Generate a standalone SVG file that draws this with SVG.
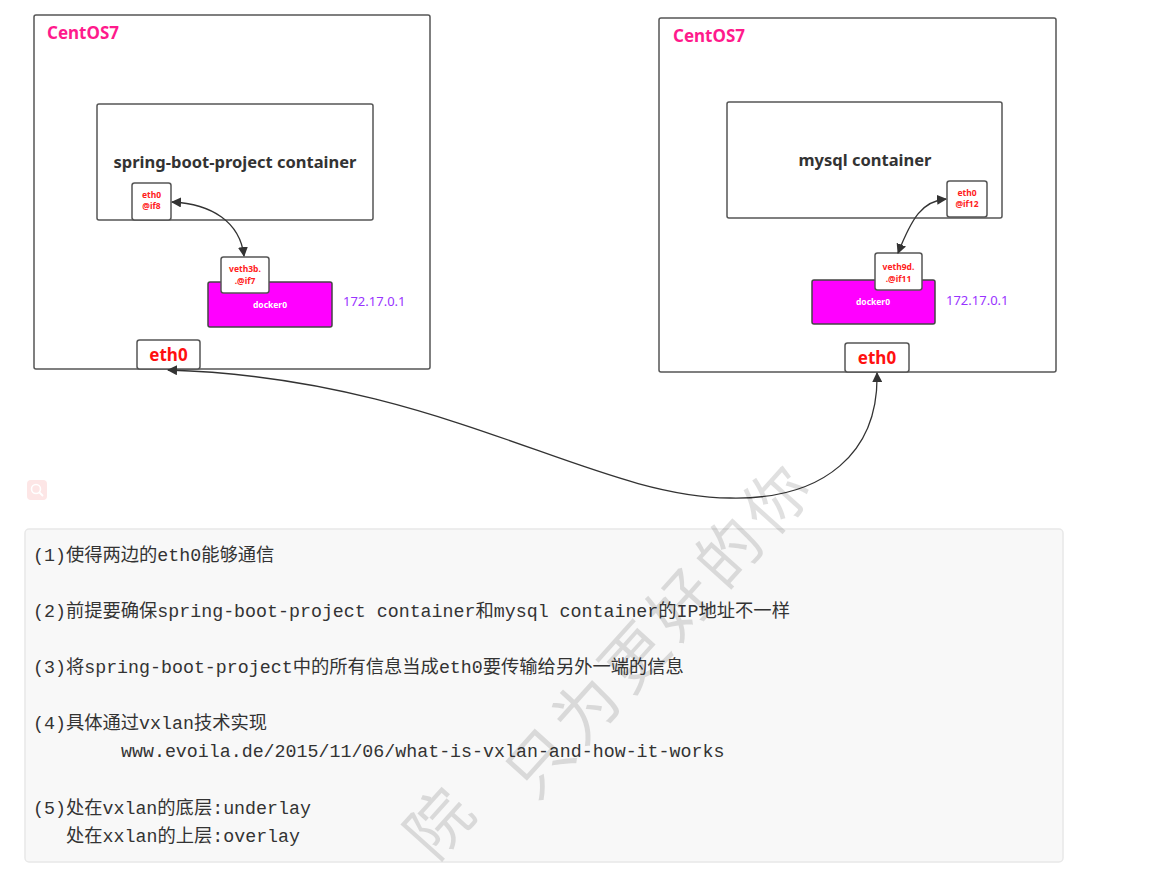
<svg xmlns="http://www.w3.org/2000/svg" width="1156" height="871" viewBox="0 0 1156 871">
<defs>
<style>
.box{fill:#fff;stroke:#555;stroke-width:1.5}
.os{font-family:"Noto Sans","Open Sans",sans-serif;font-weight:bold;font-size:17px;fill:#ff1a8c}
.ct{font-family:"Noto Sans","Open Sans",sans-serif;font-weight:bold;font-size:16.5px;fill:#333;text-anchor:middle}
.if{font-family:"Noto Sans","Open Sans",sans-serif;font-weight:bold;font-size:8.5px;fill:#ff2020;text-anchor:middle}
.dk{fill:#ff00ff;stroke:#444;stroke-width:1.5}
.dkt{font-family:"Noto Sans","Open Sans",sans-serif;font-weight:bold;font-size:8.5px;fill:#fff;text-anchor:middle}
.ip{font-family:"Noto Sans","Open Sans",sans-serif;font-size:13px;fill:#9933ff}
.eth{font-family:"Noto Sans","Open Sans",sans-serif;font-weight:bold;font-size:17px;fill:#ff1010;text-anchor:middle}
.con{fill:none;stroke:#333;stroke-width:1.3}
.txt{font-family:"Liberation Mono","Noto Sans CJK SC",monospace;font-size:18.3px;fill:#333}
.wm{font-family:"Noto Sans CJK SC",sans-serif;font-weight:400;font-size:64px;fill:#000;fill-opacity:0.12;text-anchor:middle}
</style>
<marker id="ah" viewBox="0 0 10 10" refX="9" refY="5" markerWidth="10" markerHeight="10" markerUnits="userSpaceOnUse" orient="auto-start-reverse">
<path d="M0,0 L10,5 L0,10 z" fill="#333"/>
</marker>
</defs>
<rect width="1156" height="871" fill="#fff"/>

<g id="host-left">
<rect class="box" x="34" y="15" width="396" height="354" rx="2"/>
<text class="os" x="47" y="39">CentOS7</text>
</g>
<g id="container-left">
<rect class="box" x="97" y="104" width="276" height="116" rx="2"/>
<text class="ct" x="235" y="168">spring-boot-project container</text>
</g>
<g id="eth0-if8">
<rect class="box" x="132" y="183" width="39" height="37" rx="2.5"/>
<text class="if" x="151.5" y="198">eth0</text>
<text class="if" x="151.5" y="209">@if8</text>
</g>
<g id="docker0-left">
<rect class="dk" x="208" y="282" width="124" height="45" rx="2"/>
<text class="dkt" x="270" y="308">docker0</text>
</g>
<g id="veth3b">
<rect class="box" x="221" y="257" width="48" height="36" rx="2.5"/>
<text class="if" x="245" y="272">veth3b.</text>
<text class="if" x="245" y="284">.@if7</text>
</g>
<g id="ip-left"><text class="ip" x="343" y="306">172.17.0.1</text></g>
<g id="eth0-left">
<rect class="box" x="137" y="340" width="63" height="29" rx="2.5"/>
<text class="eth" x="168.5" y="361">eth0</text>
</g>

<g id="host-right">
<rect class="box" x="659" y="18" width="397" height="354" rx="2"/>
<text class="os" x="673" y="42">CentOS7</text>
</g>
<g id="container-right">
<rect class="box" x="727" y="102" width="275" height="116" rx="2"/>
<text class="ct" x="865" y="166">mysql container</text>
</g>
<g id="eth0-if12">
<rect class="box" x="947" y="181" width="40" height="36" rx="2.5"/>
<text class="if" x="967" y="196">eth0</text>
<text class="if" x="967" y="207">@if12</text>
</g>
<g id="docker0-right">
<rect class="dk" x="812" y="280" width="123" height="44" rx="2"/>
<text class="dkt" x="873" y="305">docker0</text>
</g>
<g id="veth9d">
<rect class="box" x="875" y="253" width="47" height="37" rx="2.5"/>
<text class="if" x="898.5" y="270">veth9d.</text>
<text class="if" x="898.5" y="282">.@if11</text>
</g>
<g id="ip-right"><text class="ip" x="946" y="305">172.17.0.1</text></g>
<g id="eth0-right">
<rect class="box" x="845" y="343" width="64" height="29" rx="2.5"/>
<text class="eth" x="877" y="364">eth0</text>
</g>

<g id="connectors">
<path class="con" d="M172,202 C212,204 240,222 244,256" marker-start="url(#ah)" marker-end="url(#ah)"/>
<path class="con" d="M946,199 C922,201 912,218 898,253" marker-start="url(#ah)" marker-end="url(#ah)"/>
<path class="con" d="M168,370 C440,378 590,497 730,498 C825,500 879,452 877,373" marker-start="url(#ah)" marker-end="url(#ah)"/>
</g>

<g id="search-icon">
<rect x="27" y="480" width="20" height="20" rx="4" fill="#fde6e6"/>
<circle cx="36" cy="489" r="4.5" fill="none" stroke="#fff" stroke-width="1.6"/>
<line x1="39.5" y1="492.5" x2="42.5" y2="495.5" stroke="#fff" stroke-width="1.8" stroke-linecap="round"/>
</g>

<g id="notes">
<rect x="25" y="529" width="1038" height="333" rx="4" fill="#f8f8f8" stroke="#e8e8e8" stroke-width="1.5"/>
<text class="txt" x="33" y="561">(1)使得两边的eth0能够通信</text>
<text class="txt" x="33" y="617">(2)前提要确保spring-boot-project container和mysql container的IP地址不一样</text>
<text class="txt" x="33" y="673">(3)将spring-boot-project中的所有信息当成eth0要传输给另外一端的信息</text>
<text class="txt" x="33" y="729">(4)具体通过vxlan技术实现</text>
<text class="txt" x="121" y="757">www.evoila.de/2015/11/06/what-is-vxlan-and-how-it-works</text>
<text class="txt" x="33" y="814">(5)处在vxlan的底层:underlay</text>
<text class="txt" x="66" y="842">处在xxlan的上层:overlay</text>
</g>

<g id="watermark">
<text class="wm" transform="translate(440,824) rotate(-48)" y="22">院</text>
<text class="wm" transform="translate(540,763) rotate(-48)" y="22">只</text>
<text class="wm" transform="translate(587,710) rotate(-48)" y="22">为</text>
<text class="wm" transform="translate(635,658) rotate(-48)" y="22">更</text>
<text class="wm" transform="translate(682,605) rotate(-48)" y="22">好</text>
<text class="wm" transform="translate(730,553) rotate(-48)" y="22">的</text>
<text class="wm" transform="translate(777,500) rotate(-48)" y="22">你</text>
</g>
</svg>
